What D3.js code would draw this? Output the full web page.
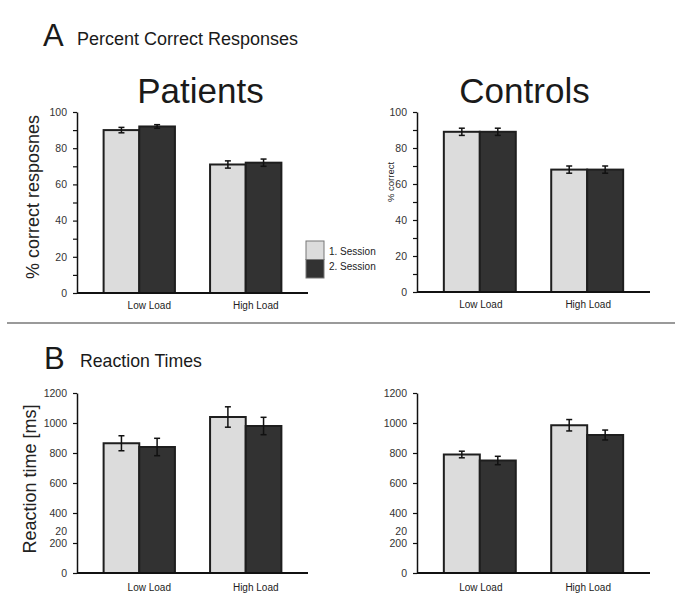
<!DOCTYPE html>
<html>
<head>
<meta charset="utf-8">
<script src="https://cdn.jsdelivr.net/npm/d3@7"></script>
<style>
  body { margin: 0; background: #fff; }
  svg { font-family: "Liberation Sans", Arial, sans-serif; }
</style>
</head>
<body>
<svg id="chart" width="683" height="616"></svg>
<script>
// data
const loads = ["Low Load", "High Load"];
const sessions = ["1. Session", "2. Session"];

// [session][load]
const patientsCorrect = [[90, 71], [92, 72]];
const patientsCorrectErr = [[1.5, 2], [1, 2]];
const controlsCorrect = [[89, 68], [89, 68]];
const controlsCorrectErr = [[2, 2], [2, 2]];

const patientsRT = [[865, 1040], [840, 980]];
const patientsRTErr = [[50, 68], [58, 58]];
const controlsRT = [[790, 985], [750, 920]];
const controlsRTErr = [[22, 38], [28, 33]];

const pctTicks = [0, 10, 20, 30, 40, 50, 60, 70, 80, 90, 100];
const rtTicks = [0, 200, 400, 600, 800, 1000, 1200];

const fills = ["#dcdcdc", "#323232"];

const svg = d3.select("#chart");

function drawPanel(opts) {
  const g = svg.append("g");
  const x0 = opts.x0, w = opts.width;

  const y = d3.scaleLinear().domain([0, opts.max]).range([opts.yBottom, opts.yTop]);
  const x = d3.scaleBand().domain(loads).range([x0, x0 + w])
    .paddingInner(0.33).paddingOuter(0.25);
  const xs = d3.scaleBand().domain([0, 1]).range([0, x.bandwidth()]);

  // bars
  loads.forEach((load, li) => {
    [0, 1].forEach(si => {
      const v = opts.values[si][li];
      const e = opts.errors[si][li];
      const bx = x(load) + xs(si);
      g.append("rect")
        .attr("x", bx)
        .attr("y", y(v))
        .attr("width", xs.bandwidth())
        .attr("height", y(0) - y(v))
        .attr("fill", fills[si])
        .attr("stroke", "#1e1e1e")
        .attr("stroke-width", 2);
      const cx = bx + xs.bandwidth() / 2;
      g.append("line").attr("x1", cx).attr("x2", cx)
        .attr("y1", y(v - e)).attr("y2", y(v + e))
        .attr("stroke", "#111").attr("stroke-width", 1.5);
      [v - e, v + e].forEach(t => {
        g.append("line").attr("x1", cx - 3).attr("x2", cx + 3)
          .attr("y1", y(t)).attr("y2", y(t))
          .attr("stroke", "#111").attr("stroke-width", 1.5);
      });
    });
  });

  // y axis
  const yAxis = d3.axisLeft(y).tickValues(opts.ticks).tickSize(4).tickSizeOuter(0).tickPadding(6)
    .tickFormat(d => (opts.labelEvery && d % opts.labelEvery !== 0) ? "" : d);
  const ya = g.append("g").attr("transform", `translate(${x0},0)`).call(yAxis);
  ya.select(".domain").attr("stroke", "#111").attr("stroke-width", 1.5);
  ya.selectAll(".tick line").attr("stroke", "#111").attr("stroke-width", 1.2);
  ya.selectAll(".tick text").attr("fill", "#333").style("font-size", "10.5px")
    .style("font-family", "Liberation Sans, Arial, sans-serif");

  // stray label left over in the original figure
  if (opts.stray) {
    g.append("text").attr("x", x0 - 10).attr("y", y(opts.stray.at) - 11)
      .attr("text-anchor", "end").attr("dy", "0.32em")
      .attr("fill", "#333").style("font-size", "10.5px").text(opts.stray.text);
  }

  // x axis
  g.append("line").attr("x1", x0).attr("x2", x0 + w)
    .attr("y1", y(0)).attr("y2", y(0))
    .attr("stroke", "#111").attr("stroke-width", 2.2);
  const xAxis = d3.axisBottom(x).tickSize(0).tickPadding(opts.labelPad);
  const xa = g.append("g").attr("transform", `translate(${opts.labelShift},${y(0)})`).call(xAxis);
  xa.select(".domain").remove();
  xa.selectAll(".tick text").attr("fill", "#222").style("font-size", "10px")
    .style("font-family", "Liberation Sans, Arial, sans-serif");

  if (opts.yLabel) {
    g.append("text")
      .attr("transform", `translate(${opts.yLabel.x},${opts.yLabel.y}) rotate(-90)`)
      .attr("text-anchor", "middle")
      .attr("dy", "0.35em")
      .attr("fill", "#222")
      .style("font-size", opts.yLabel.size + "px")
      .text(opts.yLabel.text);
  }
  if (opts.title) {
    g.append("text").attr("x", x0 + w / 2 + opts.title.dx).attr("y", 103)
      .attr("text-anchor", "middle").attr("fill", "#1a1a1a")
      .style("font-size", "35px").text(opts.title.text);
  }
}

// panel headings
svg.append("text").attr("x", 43).attr("y", 46).attr("fill", "#1a1a1a")
  .style("font-size", "31px").text("A");
svg.append("text").attr("x", 77).attr("y", 45).attr("fill", "#1a1a1a")
  .style("font-size", "18px").text("Percent Correct Responses");
svg.append("text").attr("x", 44).attr("y", 369).attr("fill", "#1a1a1a")
  .style("font-size", "31px").text("B");
svg.append("text").attr("x", 80).attr("y", 367).attr("fill", "#1a1a1a")
  .style("font-size", "17.7px").text("Reaction Times");

// separator
svg.append("line").attr("x1", 7).attr("x2", 675).attr("y1", 323).attr("y2", 323)
  .attr("stroke", "#9a9a9a").attr("stroke-width", 2);

drawPanel({
  x0: 77, width: 231, yTop: 112, yBottom: 293, max: 100,
  ticks: pctTicks, labelEvery: 20,
  values: patientsCorrect, errors: patientsCorrectErr,
  labelShift: 10, labelPad: 9,
  yLabel: { x: 33, y: 197, size: 18, text: "% correct resposnes" },
  title: { text: "Patients", dx: 8 }
});
drawPanel({
  x0: 417, width: 233, yTop: 112, yBottom: 292, max: 100,
  ticks: pctTicks, labelEvery: 20,
  values: controlsCorrect, errors: controlsCorrectErr,
  labelShift: 1, labelPad: 9,
  yLabel: { x: 391, y: 182, size: 9.5, text: "% correct" },
  title: { text: "Controls", dx: -9 }
});
drawPanel({
  x0: 77, width: 231, yTop: 393, yBottom: 573, max: 1200,
  ticks: rtTicks,
  values: patientsRT, errors: patientsRTErr,
  labelShift: 10, labelPad: 11,
  stray: { at: 200, text: "20" },
  yLabel: { x: 30, y: 479, size: 18, text: "Reaction time [ms]" }
});
drawPanel({
  x0: 417, width: 233, yTop: 393, yBottom: 573, max: 1200,
  ticks: rtTicks,
  values: controlsRT, errors: controlsRTErr,
  labelShift: 1, labelPad: 11,
  stray: { at: 200, text: "20" }
});

// legend
const legend = svg.append("g").attr("transform", "translate(306,241)");
sessions.forEach((s, i) => {
  legend.append("rect").attr("x", 0).attr("y", i * 18.5).attr("width", 18).attr("height", 18.5)
    .attr("fill", fills[i]).attr("stroke", "#777").attr("stroke-width", 1);
  legend.append("text").attr("x", 23).attr("y", 10 + i * 15).attr("dy", "0.35em")
    .attr("fill", "#222").style("font-size", "10px").text(s);
});
</script>
</body>
</html>
